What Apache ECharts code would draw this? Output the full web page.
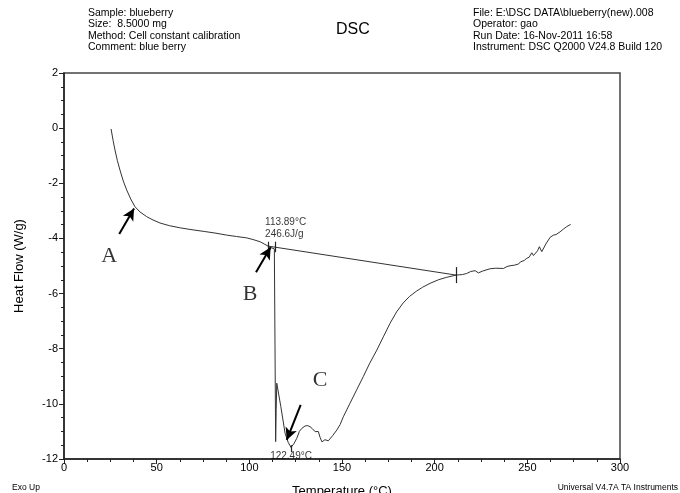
<!DOCTYPE html>
<html>
<head>
<meta charset="utf-8">
<script src="https://cdn.jsdelivr.net/npm/echarts@6/dist/echarts.min.js"></script>
<style>
  html, body { margin: 0; padding: 0; background: #fff; }
  #chart { width: 680px; height: 493px; }
</style>
</head>
<body>
<div id="chart"></div>
<script>
// DSC curve: temperature (°C) and heat flow (W/g)
var temps = [25.4, 26.5, 27.5, 28.8, 30.2, 32, 33.8, 36, 38.3, 41, 44.6, 48, 51.8, 57, 63, 69.6, 76, 82, 87.8, 93,
  98.6, 102, 105.8, 108, 110.1, 112, 113.5, 114.0, 114.2, 114.5, 114.8, 117, 119.3, 121, 122.49, 124, 125.6, 127,
  128.3, 130.1, 131.5, 132.8, 134, 135.5, 136.5, 137.2, 138.2, 139.2, 139.9, 140.8, 141.8, 142.6, 143.5, 145, 147.2,
  149, 150.7, 154.3, 158, 161.5, 165, 168.8, 172.3, 175.9, 179.5, 183, 186.5, 190, 193.5, 197.5, 202, 206.5, 211.6, 215,
  217.3, 219.5, 221.8, 223.6, 226, 229.9, 233, 237.1, 239, 240.7, 243, 245.2, 246.3, 247, 248.3, 249.7, 251, 252.4,
  253.3, 254.2, 255.5, 256.5, 257.8, 260, 262.3, 264.1, 265.5, 267.7, 269.5, 271.3, 273.4];
var heatFlow = [-0.03, -0.45, -0.79, -1.18, -1.52, -1.92, -2.24, -2.57, -2.85, -3.04, -3.21, -3.33, -3.44, -3.54, -3.62,
  -3.69, -3.75, -3.81, -3.88, -3.93, -3.98, -4.04, -4.12, -4.20, -4.28, -4.34, -4.38, -4.42, -11.37, -10.2, -9.25,
  -10.1, -11.07, -11.4, -11.58, -11.45, -11.25, -11.0, -10.89, -10.80, -10.79, -10.83, -10.9, -11.01, -11.05, -11.0,
  -11.22, -11.38, -11.44, -11.3, -11.25, -11.34, -11.31, -11.15, -10.95, -10.75, -10.47, -9.98, -9.48, -9.01, -8.52,
  -8.05, -7.57, -7.08, -6.66, -6.34, -6.10, -5.92, -5.77, -5.63, -5.50, -5.41, -5.33, -5.31, -5.27, -5.2, -5.17, -5.25, -5.18,
  -5.10, -5.08, -5.09, -5.02, -4.99, -4.97, -4.93, -4.85, -4.78, -4.80, -4.72, -4.68, -4.52, -4.62, -4.56, -4.45,
  -4.30, -4.48, -4.2, -3.96, -3.88, -3.86, -3.76, -3.66, -3.57, -3.49];

// integration baseline (start / end)
var baseline = [[110.3, -4.28], [211.6, -5.33]];
// small vertical limit marks
var limitMarks = [
  [[110.3, -4.12], [110.3, -4.48]],
  [[113.9, -4.12], [113.9, -4.5]],
  [[211.6, -5.04], [211.6, -5.62]],
  [[122.49, -11.5], [122.49, -11.75]]
];
// arrows A, B, C (tail -> head)
var arrows = [
  [[29.8, -3.84], [37.8, -2.91]],
  [[103.6, -5.23], [111.5, -4.32]],
  [[127.7, -10.04], [120.2, -11.31]]
];
var letters = [['A', 24.4, -4.63], ['B', 100.4, -6.02], ['C', 138.2, -9.15]];
var notes = [['113.89°C\n246.6J/g', 108.5, -3.62, 'left'], ['122.49°C', 122.5, -11.9, 'center']];

var xTicks = { min: 0, max: 300, step: 50 };
var yTicks = { min: -12, max: 2, step: 2 };

var font = 'Liberation Sans, Arial, sans-serif';
var chart = echarts.init(document.getElementById('chart'));

var curve = temps.map(function (t, i) { return [t, heatFlow[i]]; });

var lineMarks = limitMarks.map(function (m) {
  return [{ coord: m[0] }, { coord: m[1] }];
});
var arrowMarks = arrows.map(function (a) {
  return [{ coord: a[0] }, { coord: a[1] }];
});

var labelData = letters.map(function (l) {
  return {
    value: [l[1], l[2]],
    label: { show: true, formatter: l[0], fontFamily: 'Liberation Serif, Times New Roman, serif', fontSize: 22, color: '#000', position: 'inside' }
  };
}).concat(notes.map(function (n) {
  return {
    value: [n[1], n[2]],
    label: { show: true, formatter: n[0], fontFamily: font, fontSize: 10, color: '#000', position: 'inside', align: n[3], lineHeight: 12 }
  };
}));

var headerStyle = { fontFamily: font, fontSize: 10.5, fill: '#000', lineHeight: 11.5 };

chart.setOption({
  animation: false,
  backgroundColor: '#fff',
  grid: {
    left: 64, right: 60, top: 73, bottom: 34, outerBoundsMode: 'none', containLabel: false,
    show: true, borderColor: '#444', borderWidth: 1.5
  },
  xAxis: {
    type: 'value',
    min: xTicks.min, max: xTicks.max, interval: xTicks.step,
    name: 'Temperature (°C)', nameLocation: 'middle', nameGap: 26,
    nameTextStyle: { fontFamily: font, fontSize: 13, color: '#000' },
    axisLine: { onZero: false, lineStyle: { color: '#222', width: 1.5 } },
    axisTick: { length: 5, lineStyle: { color: '#222' } },
    minorTick: { show: true, splitNumber: 4, length: 3, lineStyle: { color: '#222' } },
    axisLabel: { fontFamily: font, fontSize: 11, color: '#000', margin: 3 },
    splitLine: { show: false }
  },
  yAxis: {
    type: 'value',
    min: yTicks.min, max: yTicks.max, interval: yTicks.step,
    name: 'Heat Flow (W/g)', nameLocation: 'middle', nameGap: 38,
    nameTextStyle: { fontFamily: font, fontSize: 13, color: '#000' },
    axisLine: { onZero: false, lineStyle: { color: '#222', width: 1.5 } },
    axisTick: { length: 5, lineStyle: { color: '#222' } },
    minorTick: { show: true, splitNumber: 4, length: 3, lineStyle: { color: '#222' } },
    axisLabel: { fontFamily: font, fontSize: 11, color: '#000', margin: 6 },
    splitLine: { show: false }
  },
  series: [
    {
      type: 'line',
      data: curve,
      showSymbol: false,
      lineStyle: { color: '#333', width: 1 },
      z: 3
    },
    {
      type: 'line',
      data: baseline,
      showSymbol: false,
      lineStyle: { color: '#333', width: 1 },
      markLine: {
        silent: true,
        symbol: ['none', 'none'],
        label: { show: false },
        lineStyle: { color: '#222', width: 1.2, type: 'solid' },
        data: lineMarks
      }
    },
    {
      type: 'line',
      data: [],
      markLine: {
        silent: true,
        symbol: ['none', 'arrow'],
        symbolSize: [9, 12],
        label: { show: false },
        lineStyle: { color: '#000', width: 2, type: 'solid' },
        data: arrowMarks
      }
    },
    {
      type: 'scatter',
      symbolSize: 0,
      data: labelData,
      z: 5
    }
  ],
  graphic: [
    { type: 'text', left: 88, top: 7, style: Object.assign({ text: 'Sample: blueberry\nSize:  8.5000 mg\nMethod: Cell constant calibration\nComment: blue berry' }, headerStyle) },
    { type: 'text', left: 473, top: 7, style: Object.assign({ text: 'File: E:\\DSC DATA\\blueberry(new).008\nOperator: gao\nRun Date: 16-Nov-2011 16:58\nInstrument: DSC Q2000 V24.8 Build 120' }, headerStyle) },
    { type: 'text', left: 336, top: 22, style: { text: 'DSC', fontFamily: font, fontSize: 16, fill: '#000' } },
    { type: 'text', left: 12, top: 483, style: { text: 'Exo Up', fontFamily: font, fontSize: 8.5, fill: '#000' } },
    { type: 'text', right: 2, top: 483, style: { text: 'Universal V4.7A TA Instruments', fontFamily: font, fontSize: 8.5, fill: '#000' } }
  ]
});
</script>
</body>
</html>
